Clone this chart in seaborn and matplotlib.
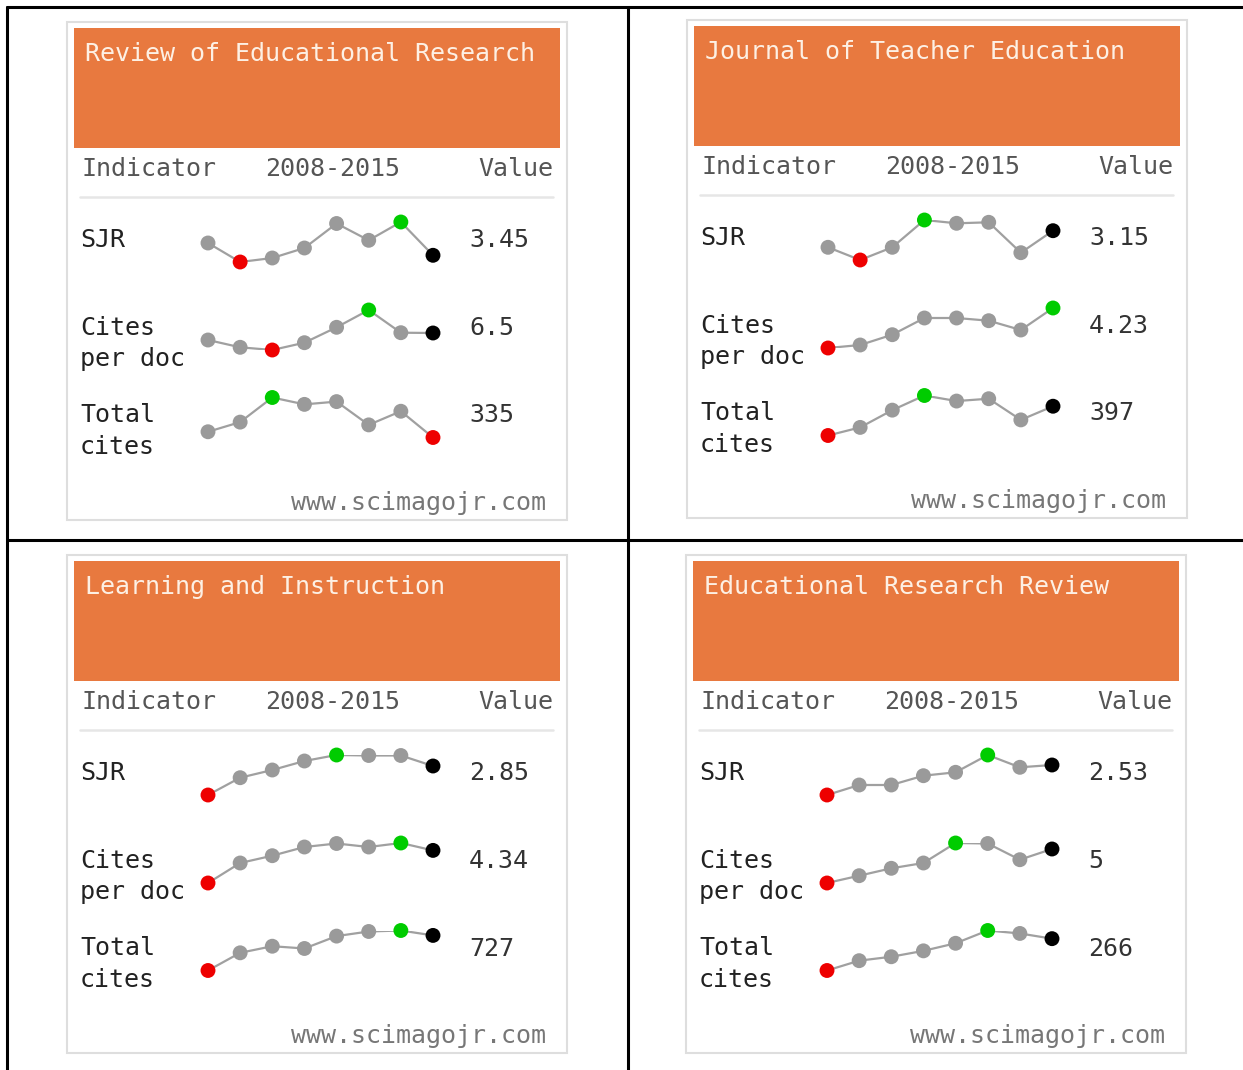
import matplotlib
matplotlib.use("Agg")
import matplotlib.pyplot as plt
from matplotlib.patches import Rectangle
import seaborn as sns

sns.set_theme(style="white")
plt.rcParams["font.family"] = ["DejaVu Sans Mono", "DejaVu Sans"]

years = [2008, 2009, 2010, 2011, 2012, 2013, 2014, 2015]
titles = ["Review of Educational Research", "Journal of Teacher Education",
          "Learning and Instruction", "Educational Research Review"]
indicators = ["SJR", "Cites\nper doc", "Total\ncites"]

rer_sjr = [19, 0, 4, 14, 38.5, 21.7, 40, 6.7]
rer_cpd = [10, 2.7, 0, 7.3, 22.7, 40, 17.3, 17.0]
rer_tc = [5.6, 15, 39, 32.3, 35, 12.3, 25.6, 0]

jte_sjr = [12.7, 0, 12.7, 40, 36.7, 37.7, 7.3, 29.3]
jte_cpd = [0, 3, 13.3, 30, 30, 27.3, 18, 40]
jte_tc = [0, 8.3, 26, 41, 35.3, 37.7, 16, 30]

li_sjr = [0, 17.3, 25, 34, 40, 39.5, 39.5, 29]
li_cpd = [0, 20, 27.3, 36, 39.5, 36, 40, 32.6]
li_tc = [0, 18, 24.7, 22.4, 35, 39.7, 40.7, 35.7]

err_sjr = [0, 10, 10, 19.3, 22.7, 40, 27.7, 30]
err_cpd = [0, 7.3, 14.7, 20, 40, 39.5, 23.3, 34]
err_tc = [0, 10, 14, 20, 27.7, 40.7, 37.7, 32.4]

series = [[rer_sjr, rer_cpd, rer_tc], [jte_sjr, jte_cpd, jte_tc],
          [li_sjr, li_cpd, li_tc], [err_sjr, err_cpd, err_tc]]
last_values = [["3.45", "6.5", "335"], ["3.15", "4.23", "397"],
               ["2.85", "4.34", "727"], ["2.53", "5", "266"]]

# === layout (pixels) ===
W, H = 1243, 1070
cards = [(67, 22), (687, 20), (67, 555), (686, 555)]
row_y = [200, 288, 375.5]      # top of each sparkline, relative to card
orange = "#e8793f"
point_pal = {"n": "#9a9a9a", "min": "#ee0000", "max": "#00cc00", "last": "#000000"}
fs = 18

fig = plt.figure(figsize=(W / 100, H / 100), dpi=100)
ax = fig.add_axes([0, 0, 1, 1])
ax.set_xlim(0, W)
ax.set_ylim(H, 0)
ax.axis("off")

# outer table lines
ax.plot([7, W], [7, 7], color="black", lw=2.2)
ax.plot([7, W], [540, 540], color="black", lw=2.2)
ax.plot([7, 7], [7, H], color="black", lw=2.2)
ax.plot([628, 628], [7, H], color="black", lw=2.2)


def sparkline(vals, x0, y0, w=225, h=40):
    sax = fig.add_axes([x0 / W, 1 - (y0 + h) / H, w / W, h / H])
    kind = ["n"] * len(vals)
    kind[-1] = "last"
    kind[vals.index(max(vals))] = "max"
    kind[vals.index(min(vals))] = "min"
    sns.lineplot(x=years, y=vals, ax=sax, color="#a0a0a0", lw=1.6)
    sns.scatterplot(x=years, y=vals, hue=kind, palette=point_pal, ax=sax,
                    s=115, linewidth=0, legend=False, zorder=3, clip_on=False)
    sax.set_xlim(years[0], years[-1])
    sax.set_ylim(min(vals), max(vals))
    sax.axis("off")


for (cx, cy), title, rows, vals_txt in zip(cards, titles, series, last_values):
    ax.add_patch(Rectangle((cx, cy), 500, 498, facecolor="white",
                           edgecolor="#dedede", lw=1.5))
    ax.add_patch(Rectangle((cx + 7, cy + 6), 486, 120, facecolor=orange,
                           edgecolor="none"))
    ax.text(cx + 18, cy + 32, title, color="#fdf0e4", fontsize=fs,
            va="center", ha="left")
    ax.text(cx + 15, cy + 147, "Indicator", color="#555555", fontsize=fs, va="center")
    ax.text(cx + 265.5, cy + 147, "2008-2015", color="#555555", fontsize=fs,
            va="center", ha="center")
    ax.text(cx + 486, cy + 147, "Value", color="#555555", fontsize=fs,
            va="center", ha="right")
    ax.plot([cx + 13, cx + 486], [cy + 175, cy + 175], color="#e6e6e6", lw=1.8)
    for ry, label, vals, vt in zip(row_y, indicators, rows, vals_txt):
        ly = cy + ry + (33.5 if "\n" in label else 18)
        ax.text(cx + 13, ly, label, color="#222222", fontsize=fs, va="center",
                linespacing=1.42)
        ax.text(cx + 402, cy + ry + 18, vt, color="#333333", fontsize=fs, va="center")
        sparkline(vals, cx + 141, cy + ry)
    ax.text(cx + 479, cy + 481, "www.scimagojr.com", color="#777777",
            fontsize=fs, va="center", ha="right")

fig.savefig("out.png", dpi=100)
